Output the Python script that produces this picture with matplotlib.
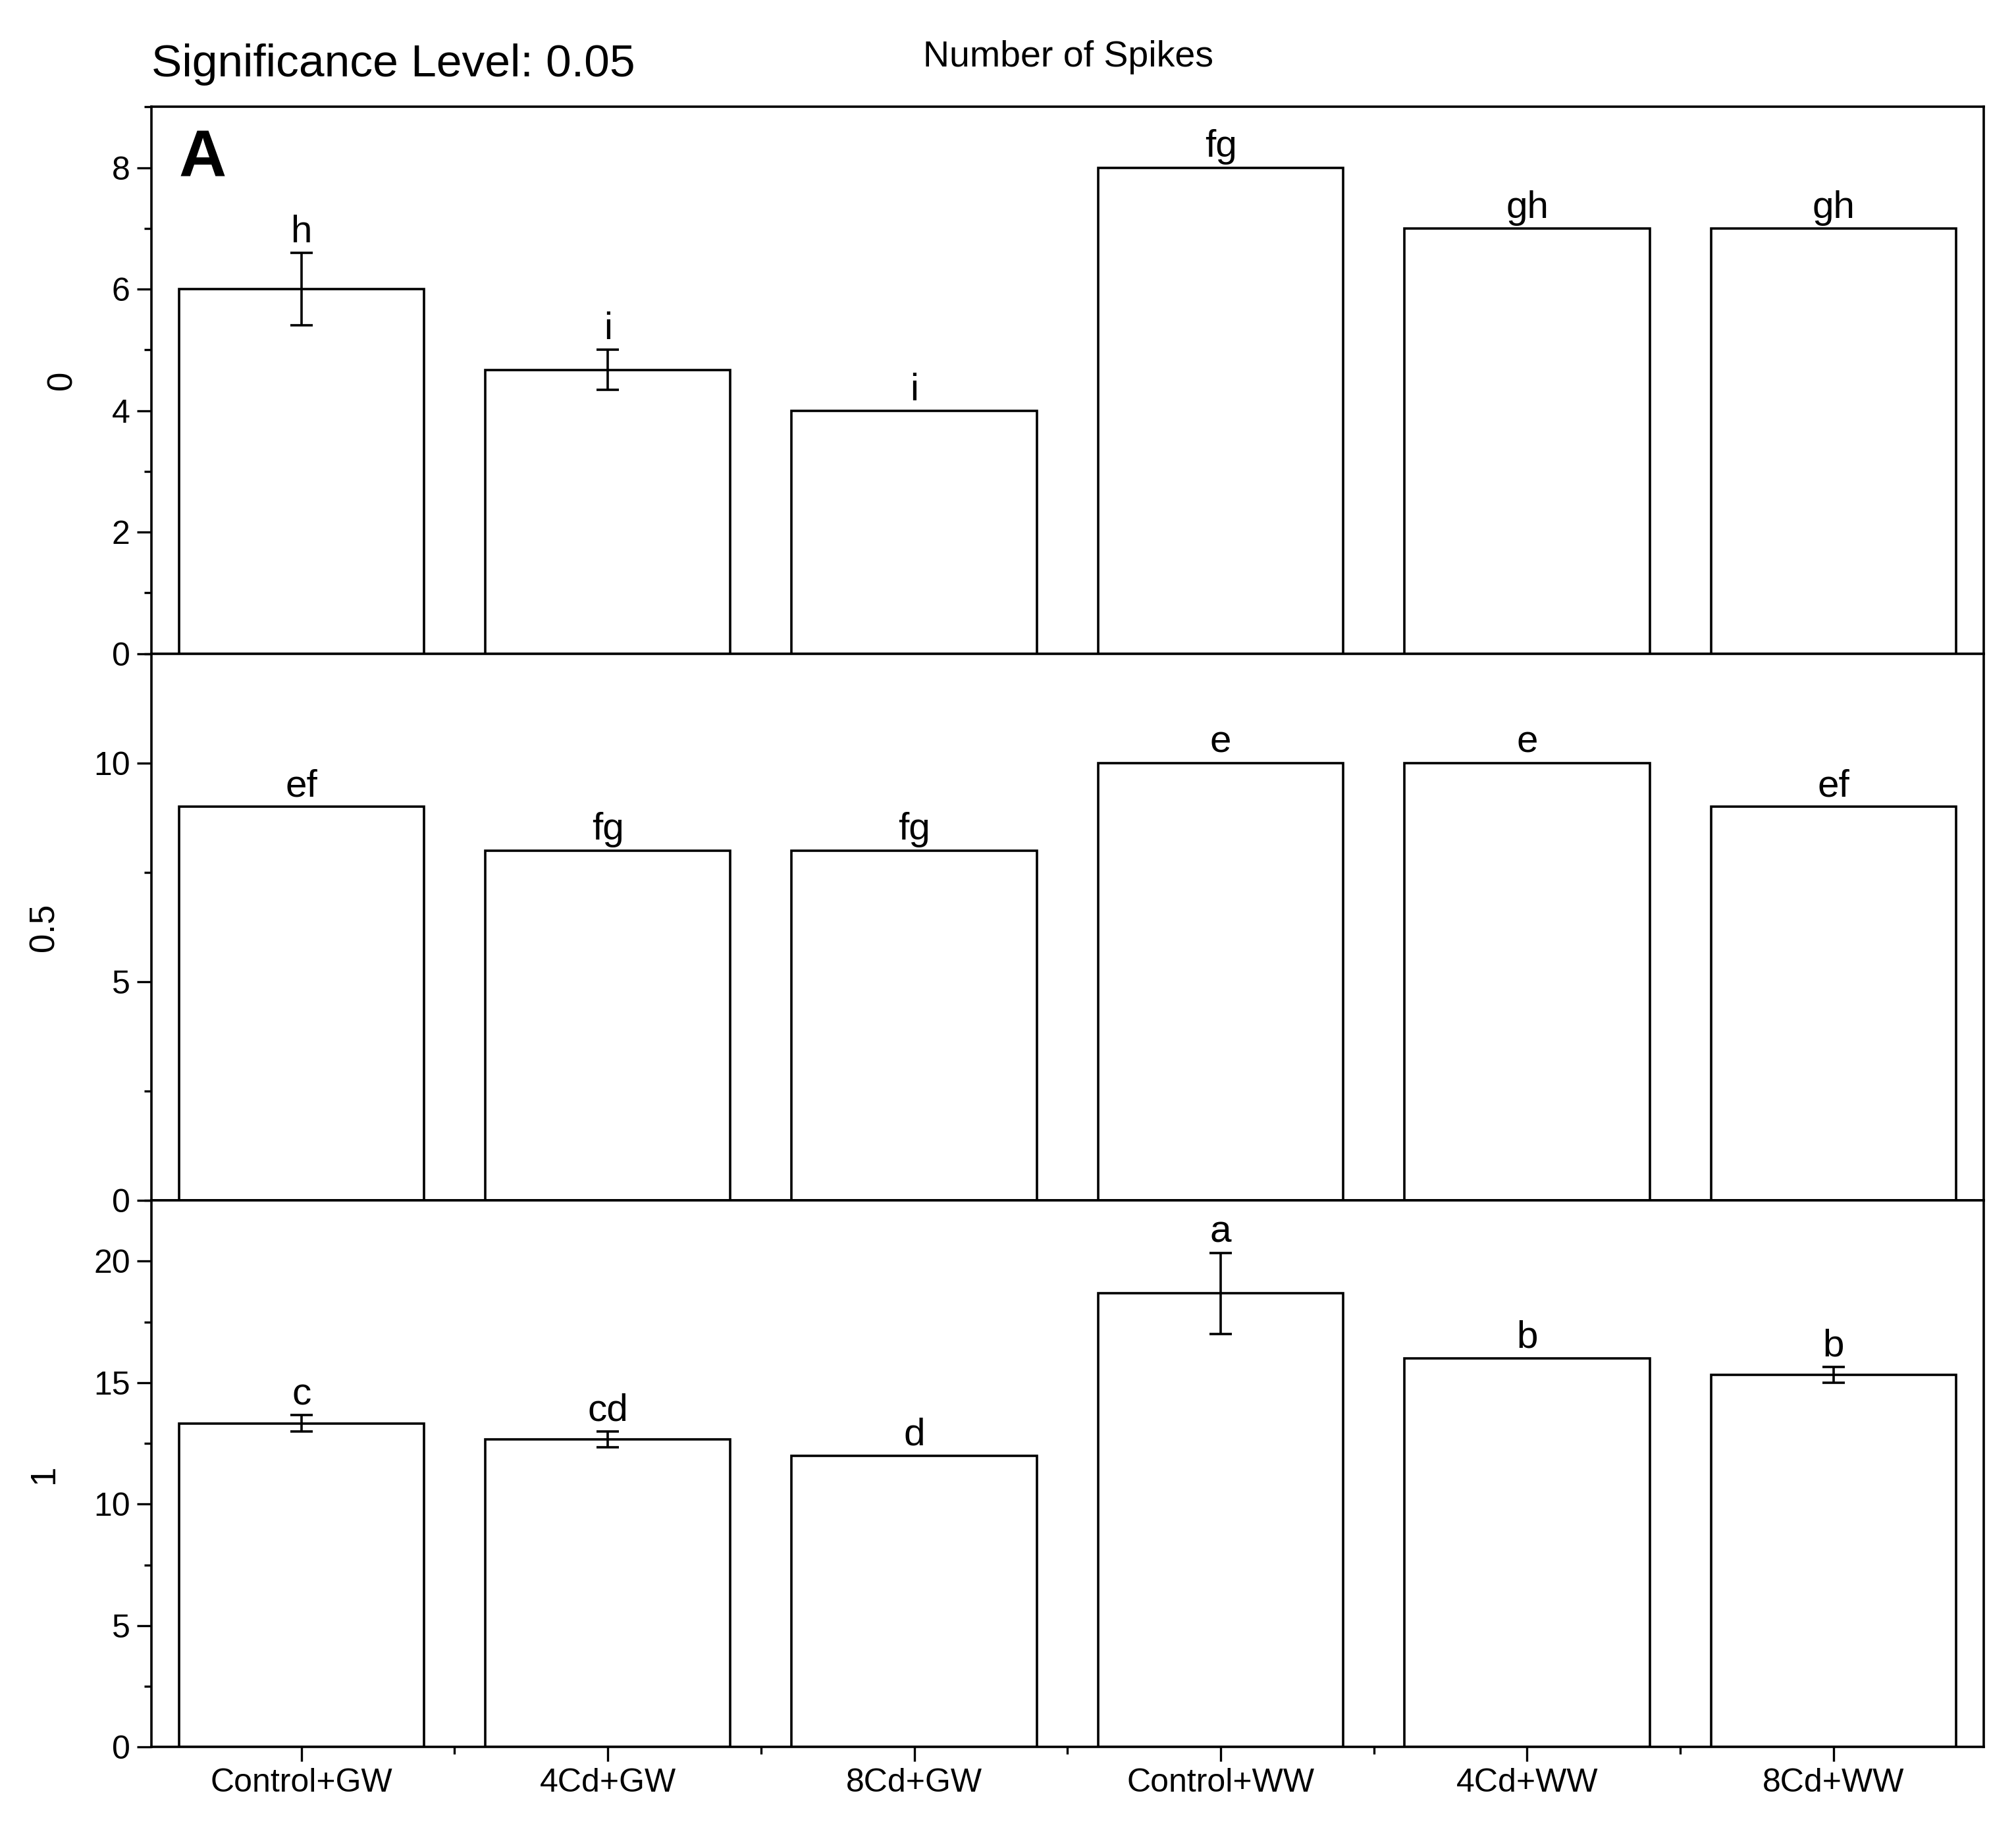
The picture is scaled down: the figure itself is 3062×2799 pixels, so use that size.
import numpy as np
import matplotlib.pyplot as plt
from matplotlib.ticker import MultipleLocator

plt.rcParams['font.family'] = ['Liberation Sans', 'DejaVu Sans']

categories = ["Control+GW", "4Cd+GW", "8Cd+GW", "Control+WW", "4Cd+WW", "8Cd+WW"]
levels = ["0", "0.5", "1"]
vals_0 = [6, 4.67, 4, 8, 7, 7]
err_0 = [0.6, 0.33, 0, 0, 0, 0]
let_0 = ["h", "i", "i", "fg", "gh", "gh"]
vals_05 = [9, 8, 8, 10, 10, 9]
err_05 = [0, 0, 0, 0, 0, 0]
let_05 = ["ef", "fg", "fg", "e", "e", "ef"]
vals_1 = [13.33, 12.67, 12, 18.67, 16, 15.33]
err_1 = [0.33, 0.33, 0, 1.67, 0, 0.33]
let_1 = ["c", "cd", "d", "a", "b", "b"]

panels = [(vals_0, err_0, let_0, 9, 2, 1),
          (vals_05, err_05, let_05, 12.5, 5, 2.5),
          (vals_1, err_1, let_1, 22.5, 5, 2.5)]

fig = plt.figure(figsize=(15.31, 13.995), dpi=200)
left, right, top, bottom = 0.075, 0.984, 0.942, 0.052
h = (top - bottom) / 3
x = np.arange(len(categories))
for i, (v, e, lets, ymax, major, minor) in enumerate(panels):
    ax = fig.add_axes([left, top - (i + 1) * h, right - left, h])
    ax.bar(x, v, width=0.8, color="white", edgecolor="black", linewidth=1.3)
    for xi, vi, ei, li in zip(x, v, e, lets):
        if ei > 0:
            ax.errorbar(xi, vi, yerr=ei, color="black", capsize=6, elinewidth=1.3, capthick=1.3)
        ax.text(xi, vi + ei + ymax * 0.005, li, ha="center", va="bottom", fontsize=21)
    ax.set_xlim(-0.49, 5.49)
    ax.set_ylim(0, ymax)
    ax.yaxis.set_major_locator(MultipleLocator(major))
    ax.yaxis.set_minor_locator(MultipleLocator(minor))
    ax.tick_params(axis="y", which="major", direction="out", length=8, width=1.2, labelsize=18)
    ax.tick_params(axis="y", which="minor", direction="out", length=4, width=1.2)
    ax.set_ylabel(levels[i], fontsize=19, labelpad=18)
    for s in ax.spines.values():
        s.set_linewidth(1.3)
    if i < 2:
        ax.set_xticks([])
    else:
        ax.set_xticks(x)
        ax.set_xticklabels(categories, fontsize=18)
        ax.set_xticks(x[:-1] + 0.5, minor=True)
        ax.tick_params(axis="x", which="major", direction="out", length=8, width=1.2)
        ax.tick_params(axis="x", which="minor", direction="out", length=4, width=1.2)
    if i == 0:
        ax.text(0.015, 0.96, "A", transform=ax.transAxes, fontsize=36, fontweight="bold", va="top")

fig.text(0.075, 0.965, "Significance Level: 0.05", fontsize=25, va="center")
fig.text(0.53, 0.969, "Number of Spikes", fontsize=20, ha="center", va="center")
fig.savefig("out.png", dpi=200)
